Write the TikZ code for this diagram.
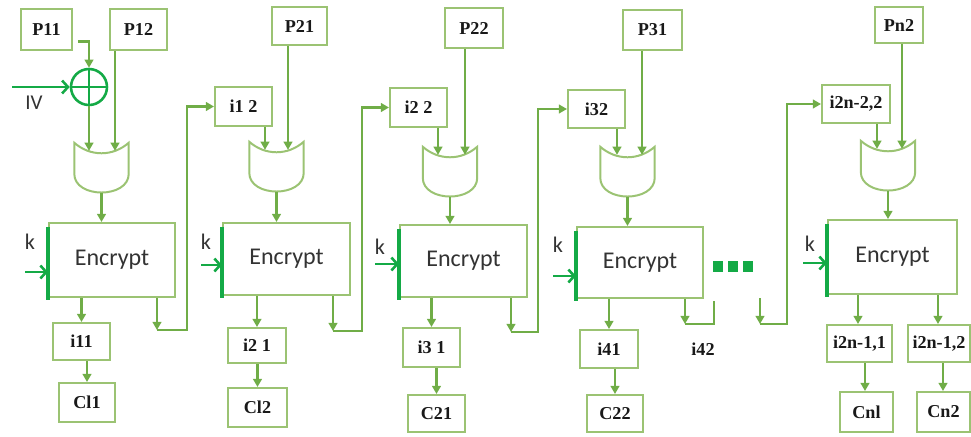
\documentclass[tikz,border=0pt]{standalone}
\usepackage{fontspec}
\setmainfont{Liberation Serif}
\newfontfamily\calib{Carlito}
\usetikzlibrary{arrows.meta,calc}
\definecolor{boxc}{RGB}{155,195,115}
\definecolor{arrc}{RGB}{112,173,71}
\definecolor{brc}{RGB}{20,170,70}
\definecolor{txtc}{RGB}{25,25,25}
\def\PX{0.03cm}
\newcommand\mybox[6]{\node[lbl,minimum width=#4*\PX,minimum height=#5*\PX] (#1) at (#2,#3) {#6};}
\newcommand\myenc[5]{\node[enc,minimum width=#4*\PX,minimum height=#5*\PX] (#1) at (#2,#3) {Encrypt};
  \draw[edgeline] ($(#1.north west)+(0,5)$) -- ($(#1.south west)+(0,2)$);}
\begin{document}
\begin{tikzpicture}[x=0.03cm,y=-0.03cm,
  lbl/.style={draw=boxc, line width=1.7pt, inner sep=0pt, font=\fontsize{15.5}{17}\selectfont\bfseries, text=txtc},
  enc/.style={draw=boxc, line width=1.7pt, inner sep=0pt, font=\calib\fontsize{20.5}{24}\selectfont, text=black!80},
  gatebox/.style={inner sep=0pt, minimum width=54*\PX, minimum height=50*\PX},
  gateline/.style={draw=boxc, line width=1.7pt},
  arr/.style={draw=arrc, line width=2pt, -{Triangle[length=7pt,width=7.5pt]}},
  ln/.style={draw=arrc, line width=2pt},
  keyarr/.style={draw=brc, line width=2.2pt, -{Straight Barb[length=5pt,width=11pt]}},
  edgeline/.style={draw=brc, line width=2.6pt},
  klbl/.style={font=\calib\fontsize{19}{22}\selectfont, text=black!80, inner sep=0pt},
  dot/.style={fill=brc, inner sep=0pt, minimum width=10*\PX, minimum height=11*\PX}
]
\useasboundingbox (0,0) rectangle (971,436);

% ---------- top boxes ----------
\mybox{p11}{46.5}{29.5}{51}{41}{P11}
\mybox{p12}{138.5}{29.5}{57}{41}{P12}
\mybox{i12}{243.5}{106.5}{57}{39}{i1 2}
\mybox{p21}{299.5}{26}{55}{38}{P21}
\mybox{i22}{418.5}{107.5}{57}{39}{i2 2}
\mybox{p22}{474}{28}{58}{40}{P22}
\mybox{i32}{596.5}{109}{57}{38}{i32}
\mybox{p31}{652.5}{30}{59}{40}{P31}
\mybox{i2n22}{856}{104}{68}{38}{i2n-2,2}
\mybox{pn2}{899}{25}{48}{36}{Pn2}

% ---------- gates ----------
\node[gatebox] (g1) at (101.5,168) {};
\node[gatebox] (g2) at (276.5,167) {};
\node[gatebox] (g3) at (450,172) {};
\node[gatebox] (g4) at (627.5,172) {};
\node[gatebox] (g5) at (888,166) {};
\foreach \g in {g1,g2,g3,g4,g5}{
  \draw[gateline] (\g.north west) .. controls ($(\g.north west)+(16,14)$) and ($(\g.north east)+(-16,14)$) .. (\g.north east)
    -- ($(\g.north east)+(0,31)$) .. controls ($(\g.north east)+(0,56)$) and ($(\g.north west)+(0,56)$) .. ($(\g.north west)+(0,31)$) -- cycle;
}
\coordinate (g1a) at ($(g1.north)+(-12.5,8)$);
\coordinate (g1b) at ($(g1.north)+(13.5,8)$);
\coordinate (g2a) at ($(g2.north)+(-11.5,8)$);
\coordinate (g2b) at ($(g2.north)+(11.5,8)$);
\coordinate (g3a) at ($(g3.north)+(-12,8)$);
\coordinate (g3b) at ($(g3.north)+(15,8)$);
\coordinate (g4a) at ($(g4.north)+(-10.5,8)$);
\coordinate (g4b) at ($(g4.north)+(14.5,8)$);
\coordinate (g5a) at ($(g5.north)+(-11,8)$);
\coordinate (g5b) at ($(g5.north)+(14,8)$);

% ---------- encrypt boxes ----------
\myenc{e1}{112}{260}{126}{74}
\myenc{e2}{286.5}{259}{127}{72}
\myenc{e3}{463.5}{261}{127}{72}
\myenc{e4}{640}{262.5}{126}{71}
\myenc{e5}{892.5}{257}{129}{74}

% ---------- bottom boxes ----------
\mybox{i11}{81.5}{341.5}{57}{37}{i11}
\mybox{c11}{87}{402.5}{56}{39}{Cl1}
\mybox{i21}{257}{345.5}{58}{35}{i2 1}
\mybox{c12}{257.5}{407.5}{59}{39}{Cl2}
\mybox{i31}{431.5}{347.5}{57}{39}{i3 1}
\mybox{c21}{436.5}{413.5}{57}{37}{C21}
\mybox{i41}{609}{349}{58}{38}{i41}
\mybox{c22}{615}{413.5}{56}{37}{C22}
\mybox{i2n11}{859.5}{343.5}{65}{37}{i2n-1,1}
\mybox{i2n12}{939}{343.5}{62}{37}{i2n-1,2}
\mybox{cn1}{866.5}{412}{53}{40}{Cnl}
\mybox{cn2}{943.5}{412}{53}{40}{Cn2}
\node[font=\fontsize{15.5}{17}\selectfont\bfseries, text=txtc, inner sep=0pt] (i42) at (703,349) {i42};

% ---------- XOR and IV ----------
\node[draw=brc, line width=2.2pt, circle, minimum size=36*\PX, inner sep=0pt] (xor) at (89,87) {};
\draw[brc, line width=2.2pt] (xor.north) -- (xor.south) (xor.west) -- (xor.east);
\coordinate (iv) at (12,87);
\draw[keyarr] (iv) -- (xor.west);
\node[klbl, font=\calib\fontsize{18}{20}\selectfont] (ivl) at (34,103) {IV};
\draw[arr] ($(p11.east)+(5,12)$) -| (xor.north);
\draw[arr] (xor.south) -- (g1a);
\draw[arr] (g1b |- p12.south) -- (g1b);

% ---------- gate inputs ----------
\draw[arr] (g2a |- i12.south) -- (g2a);
\draw[arr] (g2b |- p21.south) -- (g2b);
\draw[arr] (g3a |- i22.south) -- (g3a);
\draw[arr] (g3b |- p22.south) -- (g3b);
\draw[arr] (g4a |- i32.south) -- (g4a);
\draw[arr] (g4b |- p31.south) -- (g4b);
\draw[arr] (g5a |- i2n22.south) -- (g5a);
\draw[arr] (g5b |- pn2.south) -- (g5b);

% ---------- gate outputs ----------
\foreach \g/\e in {g1/e1,g2/e2,g3/e3,g4/e4,g5/e5}{
  \draw[arr] (\g.south) -- (\g.south |- \e.north);
}

% ---------- keys ----------
\node[klbl] (k1) at (30,242) {k};
\node[klbl] (k2) at (206,242) {k};
\node[klbl] (k3) at (380,247) {k};
\node[klbl] (k4) at (558,245) {k};
\node[klbl] (k5) at (810,244) {k};
\coordinate (ka1) at (25,272);
\coordinate (ka2) at (201,265);
\coordinate (ka3) at (375,264);
\coordinate (ka4) at (553,276);
\coordinate (ka5) at (803,263);
\draw[keyarr] (ka1) -- (ka1 -| e1.west);
\draw[keyarr] (ka2) -- (ka2 -| e2.west);
\draw[keyarr] (ka3) -- (ka3 -| e3.west);
\draw[keyarr] (ka4) -- (ka4 -| e4.west);
\draw[keyarr] (ka5) -- (ka5 -| e5.west);

% ---------- outputs ----------
\draw[arr] (i11.north |- e1.south) -- (i11.north);
\draw[arr] (c11.north |- i11.south) -- (c11.north);
\draw[arr] (i21.north |- e2.south) -- (i21.north);
\draw[arr] (c12.north |- i21.south) -- (c12.north);
\draw[arr] (i31.north |- e3.south) -- (i31.north);
\draw[arr] (c21.north |- i31.south) -- (c21.north);
\draw[arr] (i41.north |- e4.south) -- (i41.north);
\draw[arr] (c22.north |- i41.south) -- (c22.north);
\coordinate (o51) at (858,0);
\coordinate (o52) at (938,0);
\draw[arr] (o51 |- e5.south) -- (o51 |- i2n11.north);
\draw[arr] (o52 |- e5.south) -- (o52 |- i2n12.north);
\coordinate (o61) at (865,0);
\coordinate (o62) at (943,0);
\draw[arr] (o61 |- i2n11.south) -- (o61 |- cn1.north);
\draw[arr] (o62 |- i2n12.south) -- (o62 |- cn2.north);

% ---------- feedback chains ----------
\coordinate (h1) at (157,330);
\draw[arr] (h1 |- e1.south) -- (h1);
\draw[arr] (h1) -| ($(i12.west)+(-27,0)$) -- (i12.west);
\coordinate (h2) at (333,331);
\draw[arr] (h2 |- e2.south) -- (h2);
\draw[arr] (h2) -| ($(i22.west)+(-27,0)$) -- (i22.west);
\coordinate (h3) at (511,332);
\draw[arr] (h3 |- e3.south) -- (h3);
\draw[arr] (h3) -| ($(i32.west)+(-29,0)$) -- (i32.west);
\coordinate (h4) at (685,324);
\coordinate (h4b) at (714,301);
\draw[arr] (h4 |- e4.south) -- (h4);
\draw[ln] (h4) -| (h4b);
\coordinate (h5top) at (760,298);
\coordinate (h5) at (760,324);
\draw[arr] (h5top) -- (h5);
\draw[arr] (h5) -| ($(i2n22.west)+(-34,0)$) -- (i2n22.west);

% ---------- dots ----------
\node[dot] (d1) at (718,266) {};
\node[dot] (d2) at (733,266) {};
\node[dot] (d3) at (748,266) {};
\end{tikzpicture}
\end{document}
